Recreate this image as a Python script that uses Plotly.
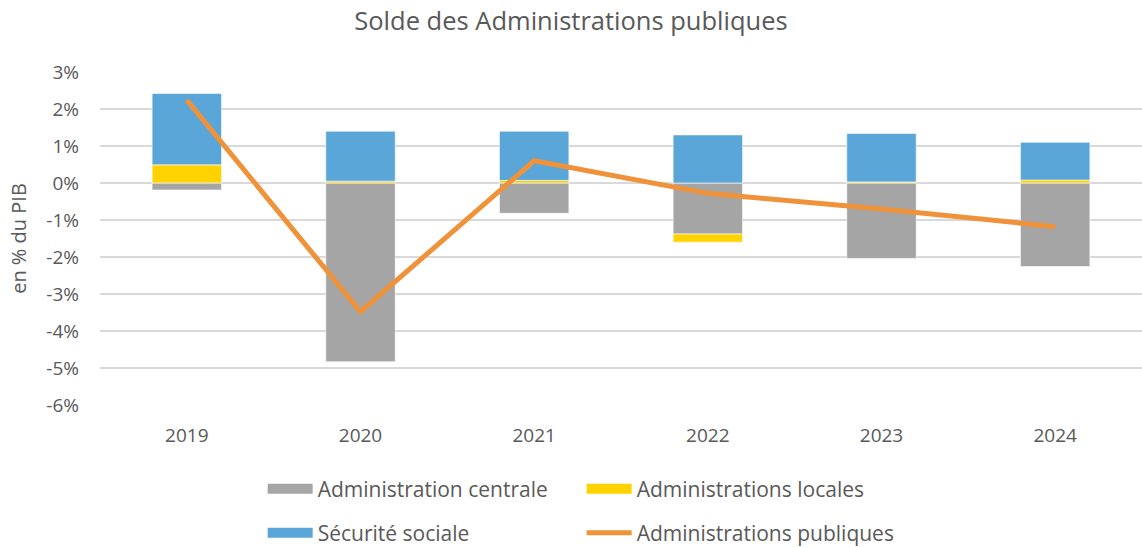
import plotly.graph_objects as go

years = ["2019", "2020", "2021", "2022", "2023", "2024"]
adm_centrale = [-0.19, -4.83, -0.82, -1.38, -2.04, -2.26]
adm_locales = [0.49, 0.05, 0.07, -0.22, 0.03, 0.08]
secu_sociale = [1.93, 1.35, 1.33, 1.30, 1.31, 1.02]
adm_publiques = [2.24, -3.48, 0.60, -0.28, -0.70, -1.18]
y_ticks = [3, 2, 1, 0, -1, -2, -3, -4, -5, -6]
y_ticklabels = [f"{v}%" for v in y_ticks]

FONT = "Open Sans"
GREY_TXT = "#595959"
C_CENT, C_LOC, C_SS, C_PUB = "#A5A5A5", "#FFD200", "#5BA6D9", "#F0923A"

fig = go.Figure()
edge = dict(color="rgba(255,255,255,0.6)", width=1)
fig.add_trace(go.Bar(x=years, y=adm_centrale, name="Administration centrale",
                     marker=dict(color=C_CENT, line=edge), showlegend=False))
fig.add_trace(go.Bar(x=years, y=adm_locales, name="Administrations locales",
                     marker=dict(color=C_LOC, line=edge), showlegend=False))
fig.add_trace(go.Bar(x=years, y=secu_sociale, name="Sécurité sociale",
                     marker=dict(color=C_SS, line=edge), showlegend=False))
fig.add_trace(go.Scatter(x=years, y=adm_publiques, name="Administrations publiques",
                         mode="lines", line=dict(color=C_PUB, width=5),
                         showlegend=False))

# legend entries (rectangular swatches like the original)
def legend_proxy(name, color, width, legend):
    fig.add_trace(go.Scatter(x=[None], y=[None], name=name, mode="lines",
                             line=dict(color=color, width=width),
                             legend=legend, hoverinfo="skip"))

legend_proxy("Administration centrale", C_CENT, 13, "legend")
legend_proxy("Administrations locales", C_LOC, 13, "legend")
legend_proxy("Sécurité sociale", C_SS, 13, "legend2")
legend_proxy("Administrations publiques", C_PUB, 5, "legend2")

legend_common = dict(orientation="h", xanchor="left", yanchor="middle",
                     xref="container", yref="container",
                     font=dict(family=FONT, size=21, color=GREY_TXT),
                     entrywidth=259, entrywidthmode="pixels", itemwidth=45,
                     bgcolor="rgba(0,0,0,0)", traceorder="normal")

fig.update_layout(
    width=1142, height=548,
    margin=dict(l=100, r=0, t=72, b=143, autoexpand=False),
    paper_bgcolor="white", plot_bgcolor="white",
    barmode="relative", bargap=0.6,
    title=dict(text="Solde des Administrations publiques", x=0.5, xanchor="center",
               y=0.962, yanchor="middle",
               font=dict(family=FONT, size=25.5, color=GREY_TXT)),
    font=dict(family=FONT, color=GREY_TXT),
    legend=dict(x=0.230, y=1 - 489 / 548, **legend_common),
    legend2=dict(x=0.230, y=1 - 533 / 548, **legend_common),
    xaxis=dict(showgrid=False, showline=False, ticks="",
               tickfont=dict(family=FONT, size=19, color=GREY_TXT),
               ticklabelstandoff=17),
    yaxis=dict(range=[-6, 3], tickvals=y_ticks, ticktext=y_ticklabels,
               showgrid=True, gridcolor="#D9D9D9", gridwidth=1.5,
               zeroline=False, showline=False, ticks="",
               tickfont=dict(family=FONT, size=19, color=GREY_TXT),
               ticklabelstandoff=20,
               title=dict(text="en % du PIB", standoff=14,
                          font=dict(family=FONT, size=20, color=GREY_TXT))),
)

fig.write_html("out.html")
